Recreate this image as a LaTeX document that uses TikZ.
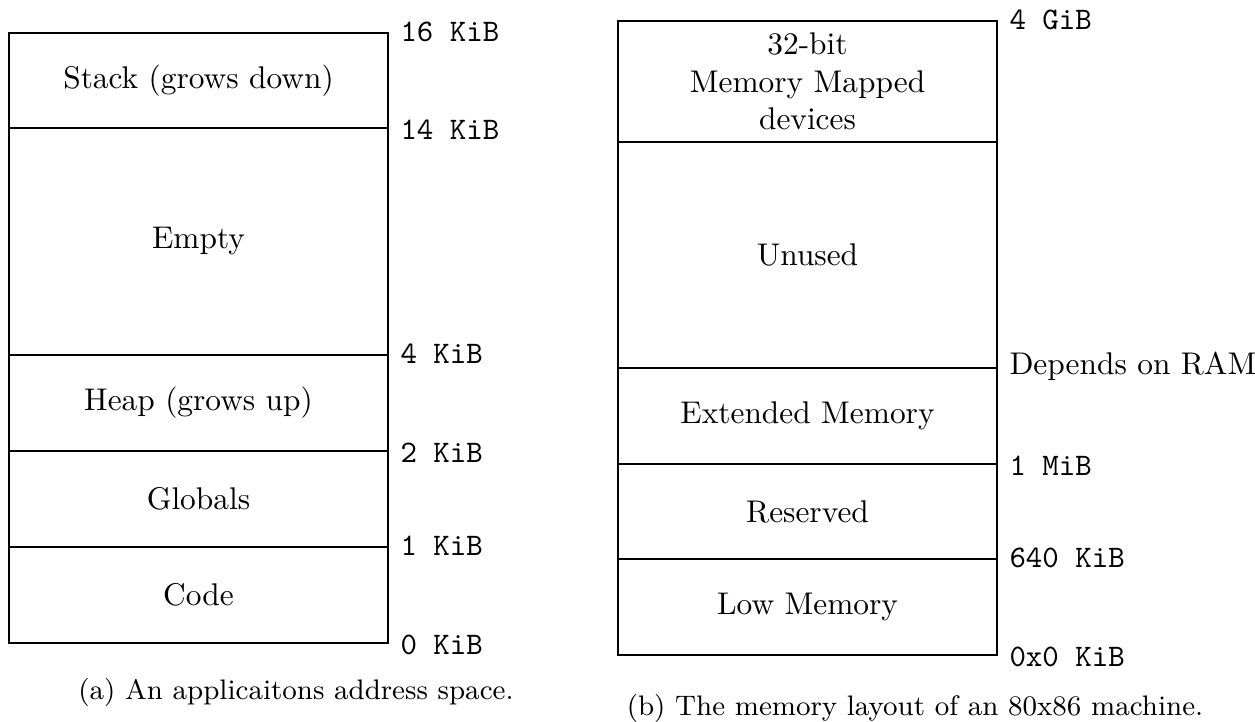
\documentclass[tikz,border=0pt]{standalone}
\usepackage{tikz}
\newdimen\pxu
\pxu=0.3188pt
\tikzset{
  seg/.style={draw,line width=0.9pt,inner sep=0pt,align=center,
    minimum width={379*\pxu},minimum height={#1*\pxu}},
  addr/.style={anchor=west,font=\ttfamily},
  note/.style={anchor=west},
  figcap/.style={align=center,font=\small}
}
\begin{document}
\begin{tikzpicture}[x=\pxu,y=-\pxu]
\useasboundingbox (0,0) rectangle (1255,721);
% (a) application address space
\node[seg=95] (stack) at (198.5,80.5) {Stack (grows down)};
\node[seg=227] (empty) at (198.5,241.5) {Empty};
\node[seg=96] (heap) at (198.5,403) {Heap (grows up)};
\node[seg=96] (glob) at (198.5,499) {Globals};
\node[seg=96] (code) at (198.5,595) {Code};
\node[addr] (a16) at (stack.north east) {16 KiB};
\node[addr] (a14) at (stack.south east) {14 KiB};
\node[addr] (a4) at (heap.north east) {4 KiB};
\node[addr] (a2) at (heap.south east) {2 KiB};
\node[addr] (a1) at (code.north east) {1 KiB};
\node[addr] (a0) at (code.south east) {0 KiB};
\node[figcap] (capa) at (296,692) {(a) An applicaitons address space.};
% (b) 80x86 memory layout
\node[seg=121] (mmio) at (807.5,81.5) {32-bit\\Memory Mapped\\devices};
\node[seg=226] (unused) at (807.5,255) {Unused};
\node[seg=96] (ext) at (807.5,416) {Extended Memory};
\node[seg=95] (resv) at (807.5,511.5) {Reserved};
\node[seg=96] (low) at (807.5,607) {Low Memory};
\node[addr] (b4g) at (mmio.north east) {4 GiB};
\node[note] (bram) at (ext.north east) {Depends on RAM};
\node[addr] (b1m) at (ext.south east) {1 MiB};
\node[addr] (b640) at (low.north east) {640 KiB};
\node[addr] (b0) at (low.south east) {0x0 KiB};
\node[figcap] (capb) at (915,708) {(b) The memory layout of an 80x86 machine.};
\end{tikzpicture}
\end{document}
